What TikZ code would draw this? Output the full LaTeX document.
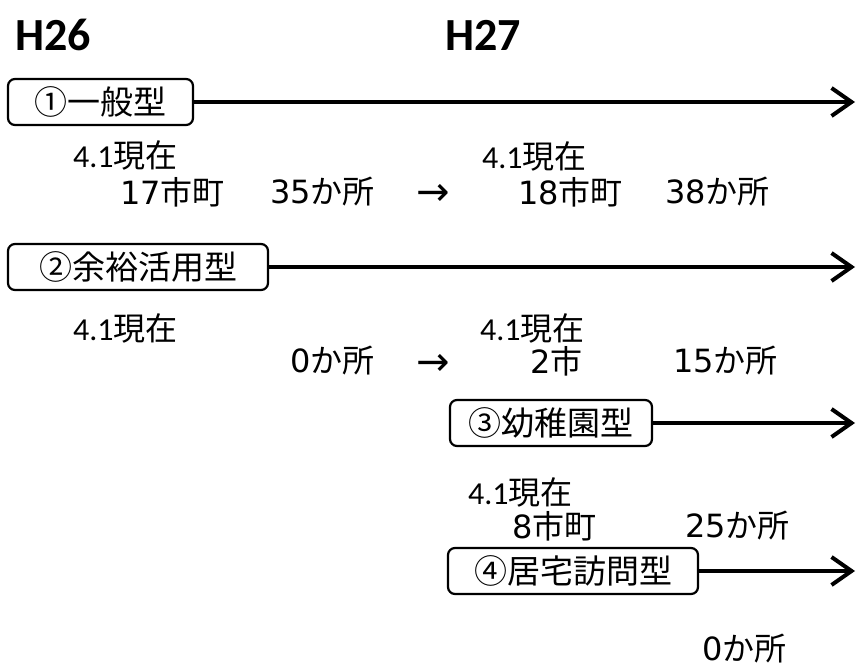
\documentclass[tikz,border=0pt]{standalone}
\usepackage{fontspec}
\setmainfont{Noto Sans CJK JP}
\newfontfamily\latinfont{Carlito}
\newfontfamily\dg{DejaVu Sans}
\usetikzlibrary{arrows.meta}
\begin{document}
\begin{tikzpicture}[x=1pt,y=-1pt,
  lbl/.style={draw, line width=2.2pt, rounded corners=7pt, inner sep=0pt,
    minimum height=46pt, font=\fontsize{33}{36}\selectfont},
  txt/.style={inner sep=0pt, anchor=west, font=\fontsize{32}{36}\selectfont},
  arw/.style={inner sep=0pt, anchor=west, font=\dg\fontsize{40}{44}\selectfont},
  yr/.style={inner sep=0pt, anchor=west, font=\latinfont\bfseries\fontsize{46}{50}\selectfont},
  flow/.style={line width=4pt, -{Straight Barb[length=20pt,width=28pt,line width=4pt]}}]
\fill[white] (0,0) rectangle (861,669);
\useasboundingbox (0,0) rectangle (861,669);

% year headings
\node[yr] (h26) at (15,35) {H26};
\node[yr] (h27) at (445,35) {H27};

% boxes
\node[lbl, minimum width=185pt] (b1) at (100.5,102) {①一般型};
\node[lbl, minimum width=260pt] (b2) at (138,267) {②余裕活用型};
\node[lbl, minimum width=202pt] (b3) at (551,423) {③幼稚園型};
\node[lbl, minimum width=250pt] (b4) at (573,571) {④居宅訪問型};

% arrow ends
\coordinate (e1) at (855,102);
\coordinate (e2) at (855,267);
\coordinate (e3) at (855,423);
\coordinate (e4) at (855,571);
\draw[flow] (b1.east) -- (e1);
\draw[flow] (b2.east) -- (e2);
\draw[flow] (b3.east) -- (e3);
\draw[flow] (b4.east) -- (e4);

% row 1
\node[txt] (t1a) at (73,155) {{\latinfont 4.1}現在};
\node[txt] (t1b) at (120,192) {{\dg 17}市町};
\node[txt] (t1c) at (270,192) {{\dg 35}か所};
\node[arw] (ar1) at (416,195) {→};
\node[txt] (t1d) at (482,156) {{\latinfont 4.1}現在};
\node[txt] (t1e) at (518,192) {{\dg 18}市町};
\node[txt] (t1f) at (665,192) {{\dg 38}か所};

% row 2
\node[txt] (t2a) at (73,328) {{\latinfont 4.1}現在};
\node[txt] (t2b) at (290,361) {{\dg 0}か所};
\node[arw] (ar2) at (416,365) {→};
\node[txt] (t2c) at (480,328) {{\latinfont 4.1}現在};
\node[txt] (t2d) at (530,361) {{\dg 2}市};
\node[txt] (t2e) at (673,361) {{\dg 15}か所};

% row 3
\node[txt] (t3a) at (468,492) {{\latinfont 4.1}現在};
\node[txt] (t3b) at (512,526) {{\dg 8}市町};
\node[txt] (t3c) at (685,526) {{\dg 25}か所};

% row 4
\node[txt] (t4a) at (702,649) {{\dg 0}か所};
\end{tikzpicture}
\end{document}
